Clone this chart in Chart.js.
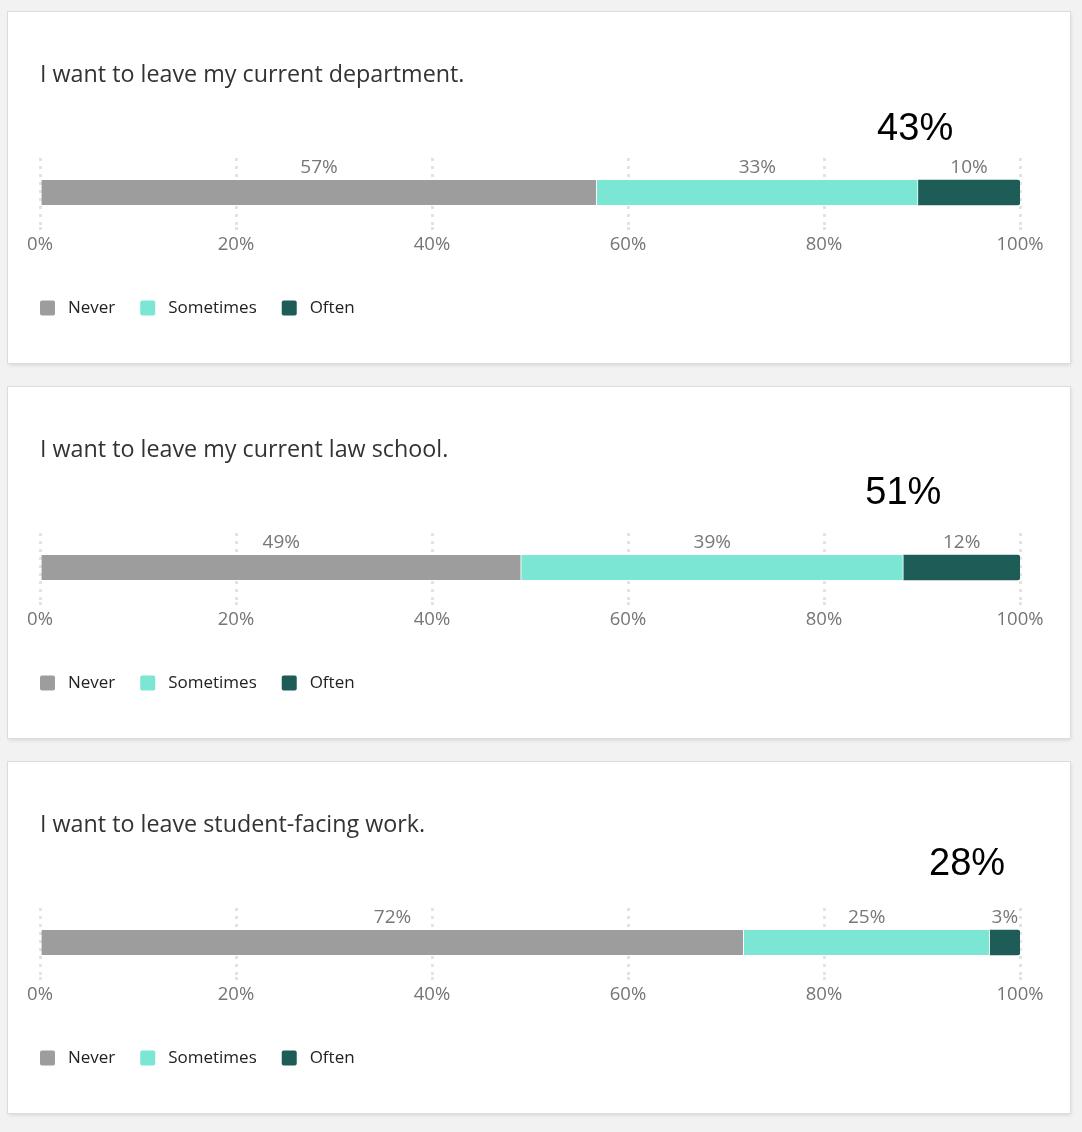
<!DOCTYPE html>
<html><head><meta charset="utf-8">
<script src="https://cdn.jsdelivr.net/npm/chart.js@4.4.1/dist/chart.umd.min.js"></script>
<style>
html,body{margin:0;padding:0;background:#f2f2f2;}
body{width:1082px;height:1132px;position:relative;overflow:hidden;font-family:'Open Sans',sans-serif;}
.panel{position:absolute;left:8px;width:1062px;height:351px;background:#fff;box-shadow:0 0 0 1px #dcdcdc, 1px 2px 4px rgba(0,0,0,0.12);}
.panel h2{position:absolute;left:32px;top:46px;margin:0;font-weight:400;font-size:23.3px;line-height:30px;color:#333;font-family:'Open Sans',sans-serif;white-space:nowrap;z-index:2;}
.panel canvas{position:absolute;left:0;top:0;}
</style>
</head>
<body>
<div id="root"></div>
<script>
// ---- data ----
const categories = ['Never', 'Sometimes', 'Often'];
const questions = [
  'I want to leave my current department.',
  'I want to leave my current law school.',
  'I want to leave student-facing work.'
];
const neverValues = [56.8, 49.1, 71.8];
const sometimesValues = [32.8, 39.0, 25.1];
const oftenValues = [10.4, 11.9, 3.1];
const tickValues = [0, 20, 40, 60, 80, 100];

// ---- styles / layout ----
const colors = ['#9d9d9d', '#7ae6d3', '#1e5c57'];
const panelTops = [12, 387, 762];
const bigLabelAnchor = [89.3, 88.1, 94.6]; // x-scale value where the summary % is centred
const bigLabelLift = [50, 61, 65.5];       // px above the bar top

const segmentLabels = {
  id: 'segmentLabels',
  afterDatasetsDraw(chart, args, opts) {
    const ctx = chart.ctx;
    ctx.save();
    ctx.font = '19px "Open Sans"';
    ctx.fillStyle = '#777777';
    ctx.textAlign = 'center';
    ctx.textBaseline = 'middle';
    let barTop = 0;
    chart.data.datasets.forEach((ds, di) => {
      const meta = chart.getDatasetMeta(di);
      meta.data.forEach((bar, j) => {
        const p = bar.getProps(['x', 'base', 'y', 'height'], true);
        barTop = p.y - p.height / 2;
        ctx.fillText(Math.round(ds.data[j]) + '%', (p.x + p.base) / 2, barTop - 12);
      });
    });
    const total = chart.data.datasets[1].data[0] + chart.data.datasets[2].data[0];
    ctx.font = '38px "Liberation Sans", Arial, sans-serif';
    ctx.fillStyle = '#000000';
    ctx.fillText(Math.round(total) + '%', chart.scales.x.getPixelForValue(opts.anchor), barTop - opts.lift);
    ctx.restore();
  }
};

const root = document.getElementById('root');
questions.forEach((q, i) => {
  const panel = document.createElement('div');
  panel.className = 'panel';
  panel.style.top = panelTops[i] + 'px';
  const h = document.createElement('h2');
  h.textContent = q;
  panel.appendChild(h);
  const cv = document.createElement('canvas');
  cv.width = 1062; cv.height = 351;
  cv.style.width = '1062px'; cv.style.height = '351px';
  panel.appendChild(cv);
  root.appendChild(panel);

  const series = [neverValues[i], sometimesValues[i], oftenValues[i]];
  new Chart(cv, {
    type: 'bar',
    data: {
      labels: [q],
      datasets: categories.map((c, k) => ({
        label: c,
        data: [series[k]],
        backgroundColor: colors[k],
        borderColor: '#ffffff',
        borderWidth: k < 2 ? {right: 1} : 0,
        borderSkipped: k < 2 ? false : 'start',
        borderRadius: k === 2 ? 3 : 0,
        barThickness: 25
      }))
    },
    options: {
      indexAxis: 'y',
      responsive: false,
      animation: false,
      layout: {padding: {top: 146, left: 7, right: 50, bottom: 36.5}},
      scales: {
        x: {
          stacked: true, min: 0, max: 100,
          afterBuildTicks(s) { s.ticks = tickValues.map(v => ({value: v})); },
          afterFit(s) { s.height = 47.5; },
          ticks: {callback: v => v + '%', font: {size: 18.5, family: 'Open Sans'}, color: '#757575', padding: 2, maxRotation: 0},
          grid: {color: '#e3e3e3', lineWidth: 3, drawTicks: true, tickLength: 5, tickColor: '#e3e3e3', tickBorderDash: [3, 5], tickWidth: 3},
          border: {display: false, dash: [3, 5]}
        },
        y: {
          stacked: true,
          afterFit(s) { s.width = 25; },
          ticks: {display: false},
          grid: {display: false},
          border: {display: false}
        }
      },
      plugins: {
        legend: {
          position: 'bottom', align: 'start',
          labels: {
            boxWidth: 15, boxHeight: 15, padding: 25, color: '#222222',
            font: {size: 17, family: 'Open Sans'},
            useBorderRadius: true, borderRadius: 2,
            generateLabels(chart) {
              return Chart.defaults.plugins.legend.labels.generateLabels(chart).map(l => Object.assign(l, {text: ' ' + l.text, lineWidth: 0, strokeStyle: l.fillStyle}));
            }
          },
          onClick: null
        },
        tooltip: {enabled: false},
        segmentLabels: {anchor: bigLabelAnchor[i], lift: bigLabelLift[i]}
      }
    },
    plugins: [segmentLabels]
  });
});
</script>
</body></html>
